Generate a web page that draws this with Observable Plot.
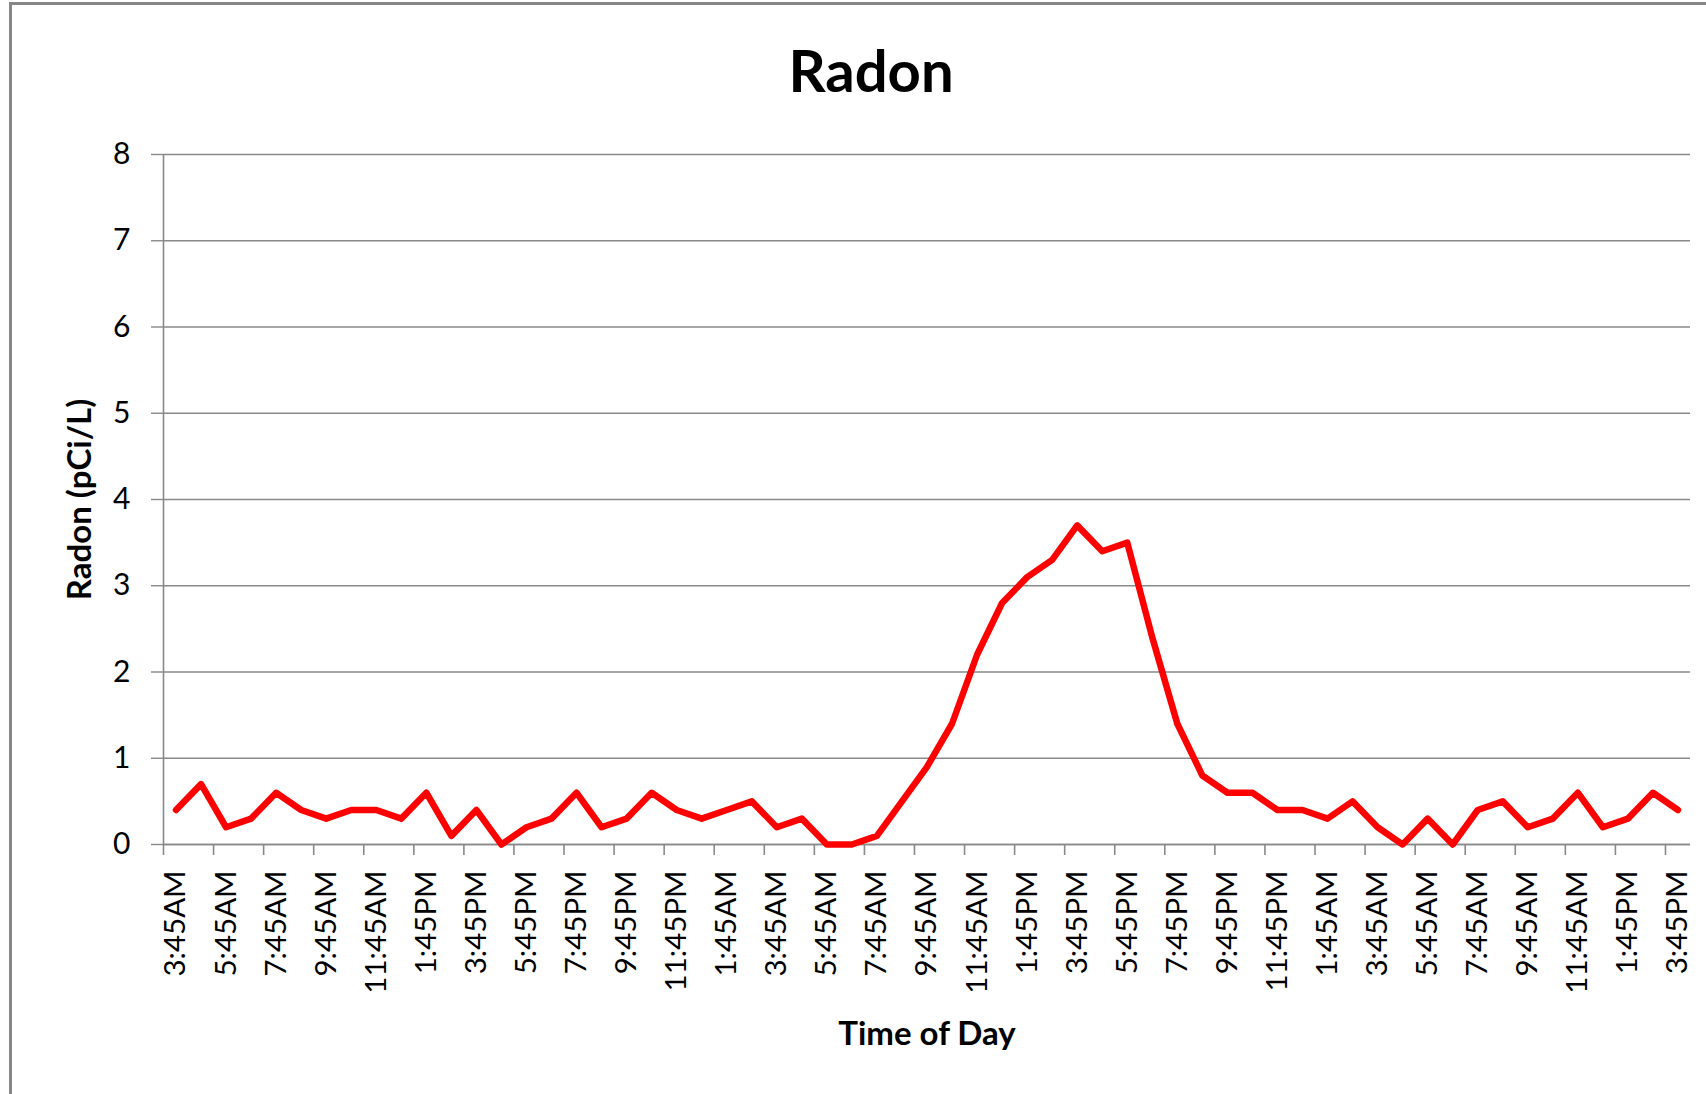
<!DOCTYPE html>
<html>
<head>
<meta charset="utf-8">
<script src="https://cdn.jsdelivr.net/npm/d3@7"></script>
<script src="https://cdn.jsdelivr.net/npm/@observablehq/plot@0.6"></script>
<style>
  html, body { margin: 0; padding: 0; background: #fff; }
  #wrap { position: relative; width: 1706px; height: 1094px; overflow: hidden; background: #fff; font-family: Lato, "Open Sans", sans-serif; }
  #bl { position: absolute; left: 9px; top: 2px; width: 3px; height: 1092px; background: #878787; }
  #bt { position: absolute; left: 9px; top: 2px; width: 1697px; height: 3px; background: #878787; }
  #title { position: absolute; left: 0; top: 36px; width: 1742px; text-align: center; font-weight: bold; font-size: 58px; line-height: 68px; color: #000; }
  #chart { position: absolute; left: 0; top: 110px; }
</style>
</head>
<body>
<div id="wrap">
  <div id="bl"></div>
  <div id="bt"></div>
  <div id="title">Radon</div>
  <div id="chart"></div>
</div>
<script>
const times = [
  "3:45AM","4:45AM","5:45AM","6:45AM","7:45AM","8:45AM","9:45AM","10:45AM","11:45AM","12:45PM",
  "1:45PM","2:45PM","3:45PM","4:45PM","5:45PM","6:45PM","7:45PM","8:45PM","9:45PM","10:45PM",
  "11:45PM","12:45AM","1:45AM","2:45AM","3:45AM","4:45AM","5:45AM","6:45AM","7:45AM","8:45AM",
  "9:45AM","10:45AM","11:45AM","12:45PM","1:45PM","2:45PM","3:45PM","4:45PM","5:45PM","6:45PM",
  "7:45PM","8:45PM","9:45PM","10:45PM","11:45PM","12:45AM","1:45AM","2:45AM","3:45AM","4:45AM",
  "5:45AM","6:45AM","7:45AM","8:45AM","9:45AM","10:45AM","11:45AM","12:45PM","1:45PM","2:45PM",
  "3:45PM"
];
const radon = [
  0.4,0.7,0.2,0.3,0.6,0.4,0.3,0.4,0.4,0.3,
  0.6,0.1,0.4,0.0,0.2,0.3,0.6,0.2,0.3,0.6,
  0.4,0.3,0.4,0.5,0.2,0.3,0.0,0.0,0.1,0.5,
  0.9,1.4,2.2,2.8,3.1,3.3,3.7,3.4,3.5,2.4,
  1.4,0.8,0.6,0.6,0.4,0.4,0.3,0.5,0.2,0.0,
  0.3,0.0,0.4,0.5,0.2,0.3,0.6,0.2,0.3,0.6,
  0.4
];
const yTicks = [0,1,2,3,4,5,6,7,8];
const chartTitleY = "Radon (pCi/L)";
const chartTitleX = "Time of Day";

const data = times.map((t, i) => ({i, time: t, value: radon[i]}));
const n = times.length;
const boundaryTicks = d3.range(0, n, 2);                 // category boundaries, every 2 categories
const labelTicks = d3.range(0, n, 2).map(i => i + 0.5);  // category centres that carry a label

const gray = "#898989";

const plot = Plot.plot({
  width: 1706,
  height: 974,
  marginLeft: 163,
  marginRight: 16,
  marginTop: 44,
  marginBottom: 240,
  style: {fontFamily: "Lato, 'Open Sans', sans-serif", fontSize: "29px", color: "#000", background: "transparent", overflow: "visible"},
  x: {type: "linear", domain: [0, n]},
  y: {domain: [0, 8]},
  marks: [
    Plot.gridY(yTicks, {stroke: gray, strokeOpacity: 1, strokeWidth: 1.4}),
    Plot.axisY(yTicks, {tickSize: 12, tickPadding: 21, stroke: gray, strokeWidth: 1.4, label: null, fontSize: 30, tickFormat: d3.format("d")}),
    Plot.ruleX([0], {stroke: gray, strokeWidth: 1.6}),
    Plot.axisX(boundaryTicks, {tickSize: 11, stroke: gray, strokeWidth: 1.6, tickFormat: () => "", label: null}),
    Plot.axisX(labelTicks, {tickSize: 0, tickPadding: 26, tickRotate: -90, tickFormat: v => times[Math.round(v - 0.5)], label: null, fontSize: 29.5}),
    Plot.ruleY([0], {stroke: gray, strokeWidth: 1.6}),
    Plot.lineY(data, {x: d => d.i + 0.5, y: "value", stroke: "#ff0000", strokeWidth: 6.5, strokeLinejoin: "round", strokeLinecap: "round"}),
    Plot.text([chartTitleY], {frameAnchor: "left", textAnchor: "middle", dx: -83, rotate: -90, fontWeight: "bold", fontSize: 33, fill: "#000"}),
    Plot.text([chartTitleX], {frameAnchor: "bottom", textAnchor: "middle", dy: 200, fontWeight: "bold", fontSize: 33, fill: "#000"})
  ]
});
document.getElementById("chart").appendChild(plot);
</script>
</body>
</html>
